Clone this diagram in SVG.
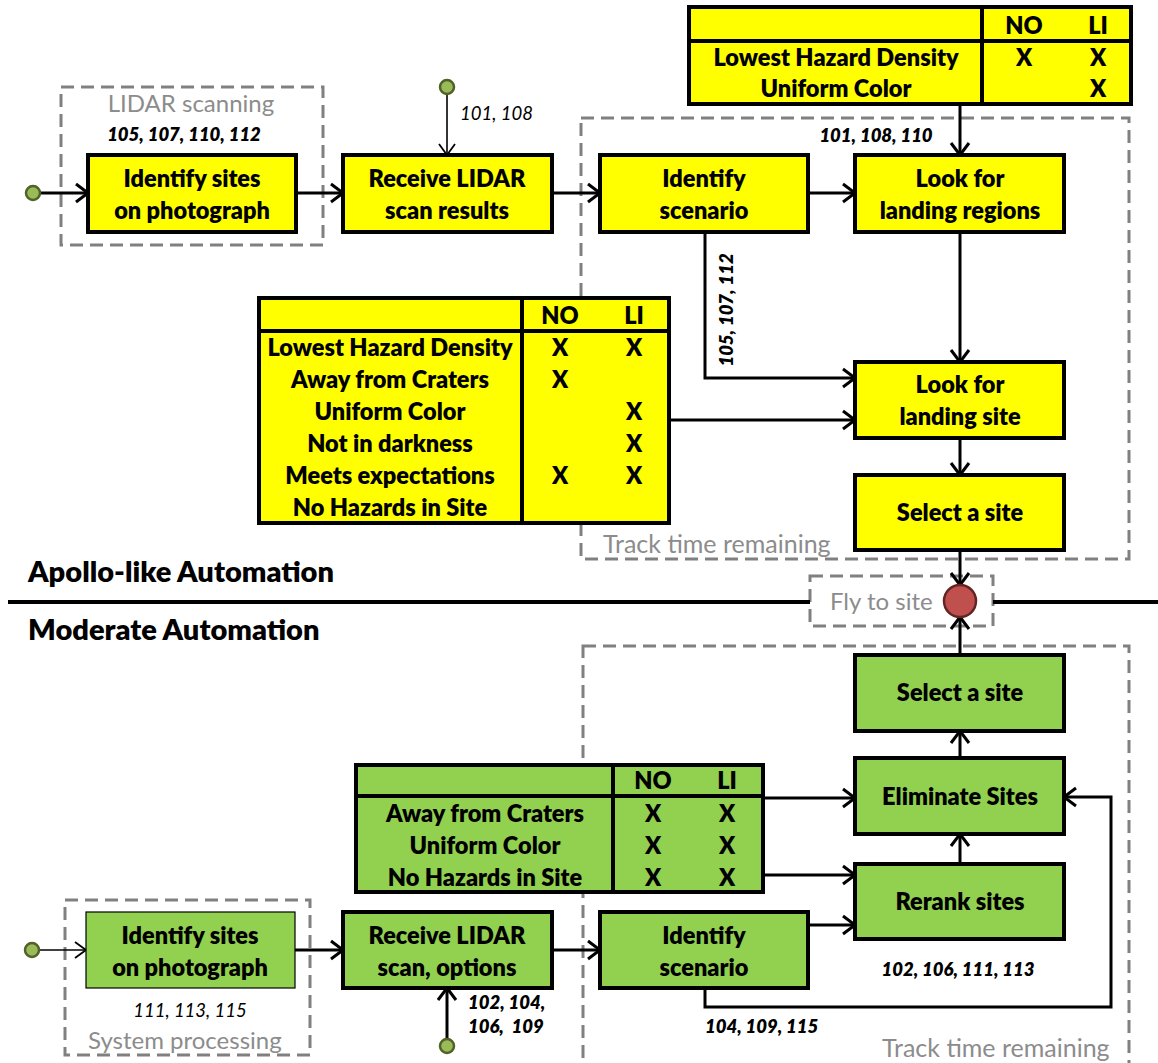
<svg xmlns="http://www.w3.org/2000/svg" width="1158" height="1063" viewBox="0 0 1158 1063">
<defs>
<style>
.box{stroke:#000;stroke-width:4}
.y{fill:#FFFF00}
.g{fill:#92D050}
.t{font-family:Lato,"Liberation Sans",sans-serif;font-weight:800;font-size:23.5px;fill:#000;text-anchor:middle}
.tb{font-family:Lato,"Liberation Sans",sans-serif;font-weight:800;font-size:23.5px;fill:#000;text-anchor:middle}
.lbl{font-family:Lato,"Liberation Sans",sans-serif;font-weight:800;font-style:italic;font-size:18.5px;fill:#000}
.lbln{font-family:Lato,"Liberation Sans",sans-serif;font-style:italic;font-size:18.5px;fill:#000}
.gray{font-family:Lato,"Liberation Sans",sans-serif;font-size:24px;fill:#8C8C8C}
.gray2{font-family:Lato,"Liberation Sans",sans-serif;font-size:25px;fill:#8C8C8C}
.sec{font-family:Lato,"Liberation Sans",sans-serif;font-weight:800;font-size:29px;fill:#000}
.dash{fill:none;stroke:#808080;stroke-width:3;stroke-dasharray:13 7}
.c{fill:none;stroke:#000;stroke-width:3}
.ct{fill:none;stroke:#000;stroke-width:1.6}
.start{fill:#9BBB59;stroke:#4F6228;stroke-width:2.5}
</style>
<marker id="a" markerUnits="userSpaceOnUse" markerWidth="18" markerHeight="22" refX="15" refY="11" orient="auto" overflow="visible">
<path d="M3,2 L15,11 L3,20" fill="none" stroke="#000" stroke-width="3"/>
</marker>
<marker id="at" markerUnits="userSpaceOnUse" markerWidth="18" markerHeight="22" refX="15" refY="11" orient="auto" overflow="visible">
<path d="M4,3 L15,11 L4,19" fill="none" stroke="#000" stroke-width="1.8"/>
</marker>
</defs>
<rect width="1158" height="1063" fill="#fff"/>

<!-- dashed group boxes -->
<g id="groups">
<rect class="dash" x="61" y="87" width="262" height="158"/>
<text class="gray" x="191" y="112" text-anchor="middle">LIDAR scanning</text>
<rect class="dash" x="581" y="118" width="548" height="441"/>
<text class="gray2" x="603" y="553">Track time remaining</text>
<rect class="dash" x="810" y="576" width="183" height="50"/>
<text class="gray" x="830" y="610">Fly to site</text>
<rect class="dash" x="583" y="646" width="546" height="440"/>
<text class="gray2" x="882" y="1057">Track time remaining</text>
<rect class="dash" x="65" y="900" width="245" height="155"/>
<text class="gray" x="88" y="1049">System processing</text>
</g>

<!-- section titles -->
<g id="sections">
<text class="sec" x="28" y="582">Apollo-like Automation</text>
<line x1="8" y1="602" x2="810" y2="602" stroke="#000" stroke-width="4"/>
<line x1="993" y1="602" x2="1158" y2="602" stroke="#000" stroke-width="4"/>
<text class="sec" x="28" y="640">Moderate Automation</text>
</g>

<!-- connectors -->
<g id="connectors">
<path class="c" d="M40,193 H88" marker-end="url(#a)"/>
<path class="c" d="M296,193 H343" marker-end="url(#a)"/>
<path class="ct" d="M447,94 V155" marker-end="url(#at)"/>
<path class="c" d="M552,193 H600" marker-end="url(#a)"/>
<path class="c" d="M808,193 H855" marker-end="url(#a)"/>
<path class="c" d="M960,106 V155" marker-end="url(#a)"/>
<path class="c" d="M705,232 V378 H855" marker-end="url(#a)"/>
<path class="c" d="M960,232 V362" marker-end="url(#a)"/>
<path class="c" d="M670,420 H855" marker-end="url(#a)"/>
<path class="c" d="M960,438 V475" marker-end="url(#a)"/>
<path class="c" d="M960,550 V585" marker-end="url(#a)"/>
<path class="c" d="M960,655 V617" marker-end="url(#a)"/>
<path class="c" d="M960,758 V731" marker-end="url(#a)"/>
<path class="c" d="M960,864 V834" marker-end="url(#a)"/>
<path class="c" d="M764,798 H855" marker-end="url(#a)"/>
<path class="c" d="M764,875 H855" marker-end="url(#a)"/>
<path class="c" d="M808,925 H855" marker-end="url(#a)"/>
<path class="c" d="M705,988 V1007 H1111 V797 H1064" marker-end="url(#a)"/>
<path class="ct" d="M39,950 H86" marker-end="url(#at)"/>
<path class="c" d="M295,950 H343" marker-end="url(#a)"/>
<path class="c" d="M447,1039 V988" marker-end="url(#a)"/>
<path class="c" d="M552,950 H600" marker-end="url(#a)"/>
<text class="lbl" x="184" y="141" text-anchor="middle">105, 107, 110, 112</text>
<text class="lbln" x="460" y="120">101, 108</text>
<text class="lbl" x="876" y="142" text-anchor="middle">101, 108, 110</text>
<text class="lbl" transform="translate(733,310) rotate(-90)" text-anchor="middle">105, 107, 112</text>
<text class="lbln" x="190" y="1017" text-anchor="middle">111, 113, 115</text>
<text class="lbl" x="468" y="1009">102, 104,</text>
<text class="lbl" x="468" y="1033" xml:space="preserve">106,  109</text>
<text class="lbl" x="958" y="976" text-anchor="middle">102, 106, 111, 113</text>
<text class="lbl" x="705" y="1033">104, 109, 115</text>
</g>

<!-- start / end points -->
<g id="start-top"><circle class="start" cx="33" cy="193" r="7"/></g>
<g id="input-top"><circle class="start" cx="447" cy="87" r="7"/></g>
<g id="start-bottom"><circle class="start" cx="32" cy="950" r="7"/></g>
<g id="input-bottom"><circle class="start" cx="447" cy="1046" r="7"/></g>
<g id="fly-to-site"><circle cx="960" cy="601" r="16" fill="#C0504D" stroke="#632523" stroke-width="2.5"/></g>

<!-- Apollo-like nodes -->
<g id="a-identify-sites">
<rect class="box y" x="88" y="155" width="208" height="77"/>
<text class="t" x="192" y="187">Identify sites</text>
<text class="t" x="192" y="219">on photograph</text>
</g>
<g id="a-receive-lidar">
<rect class="box y" x="343" y="155" width="209" height="77"/>
<text class="t" x="447" y="187">Receive LIDAR</text>
<text class="t" x="447" y="219">scan results</text>
</g>
<g id="a-identify-scenario">
<rect class="box y" x="600" y="155" width="208" height="77"/>
<text class="t" x="704" y="187">Identify</text>
<text class="t" x="704" y="219">scenario</text>
</g>
<g id="a-look-regions">
<rect class="box y" x="855" y="155" width="209" height="77"/>
<text class="t" x="960" y="187">Look for</text>
<text class="t" x="960" y="219">landing regions</text>
</g>
<g id="a-look-site">
<rect class="box y" x="855" y="362" width="209" height="76"/>
<text class="t" x="960" y="393">Look for</text>
<text class="t" x="960" y="425">landing site</text>
</g>
<g id="a-select-site">
<rect class="box y" x="855" y="475" width="209" height="75"/>
<text class="t" x="960" y="521">Select a site</text>
</g>

<!-- top-right table -->
<g id="table-regions">
<rect class="box y" x="689" y="7" width="442" height="97"/>
<line x1="689" y1="41" x2="1131" y2="41" stroke="#000" stroke-width="4"/>
<line x1="982" y1="7" x2="982" y2="104" stroke="#000" stroke-width="4"/>
<text class="tb" x="1024" y="34">NO</text>
<text class="tb" x="1098" y="34">LI</text>
<text class="tb" x="836" y="66">Lowest Hazard Density</text>
<text class="tb" x="1024" y="66">X</text>
<text class="tb" x="1098" y="66">X</text>
<text class="tb" x="836" y="97">Uniform Color</text>
<text class="tb" x="1098" y="97">X</text>
</g>

<!-- middle yellow table -->
<g id="table-site">
<rect class="box y" x="259" y="298" width="410" height="225"/>
<line x1="259" y1="331" x2="669" y2="331" stroke="#000" stroke-width="4"/>
<line x1="522" y1="298" x2="522" y2="523" stroke="#000" stroke-width="4"/>
<text class="tb" x="560" y="324">NO</text>
<text class="tb" x="634" y="324">LI</text>
<text class="tb" x="390" y="356">Lowest Hazard Density</text>
<text class="tb" x="560" y="356">X</text>
<text class="tb" x="634" y="356">X</text>
<text class="tb" x="390" y="388">Away from Craters</text>
<text class="tb" x="560" y="388">X</text>
<text class="tb" x="390" y="420">Uniform Color</text>
<text class="tb" x="634" y="420">X</text>
<text class="tb" x="390" y="452">Not in darkness</text>
<text class="tb" x="634" y="452">X</text>
<text class="tb" x="390" y="484">Meets expectations</text>
<text class="tb" x="560" y="484">X</text>
<text class="tb" x="634" y="484">X</text>
<text class="tb" x="390" y="516">No Hazards in Site</text>
</g>

<!-- Moderate nodes -->
<g id="m-select-site">
<rect class="box g" x="855" y="655" width="209" height="76"/>
<text class="t" x="960" y="701">Select a site</text>
</g>
<g id="m-eliminate">
<rect class="box g" x="855" y="758" width="209" height="76"/>
<text class="t" x="960" y="805">Eliminate Sites</text>
</g>
<g id="m-rerank">
<rect class="box g" x="855" y="864" width="209" height="75"/>
<text class="t" x="960" y="910">Rerank sites</text>
</g>
<g id="m-identify-scenario">
<rect class="box g" x="600" y="912" width="208" height="76"/>
<text class="t" x="704" y="944">Identify</text>
<text class="t" x="704" y="976">scenario</text>
</g>
<g id="m-receive-lidar">
<rect class="box g" x="343" y="912" width="209" height="76"/>
<text class="t" x="447" y="944">Receive LIDAR</text>
<text class="t" x="447" y="976">scan, options</text>
</g>
<g id="m-identify-sites">
<rect class="g" x="86" y="912" width="209" height="76" stroke="#000" stroke-width="1.2"/>
<text class="t" x="190" y="944">Identify sites</text>
<text class="t" x="190" y="976">on photograph</text>
</g>

<!-- green table -->
<g id="table-green">
<rect class="box g" x="356" y="765" width="407" height="127"/>
<line x1="356" y1="796" x2="763" y2="796" stroke="#000" stroke-width="4"/>
<line x1="613" y1="765" x2="613" y2="892" stroke="#000" stroke-width="4"/>
<text class="tb" x="653" y="789">NO</text>
<text class="tb" x="727" y="789">LI</text>
<text class="tb" x="485" y="822">Away from Craters</text>
<text class="tb" x="653" y="822">X</text>
<text class="tb" x="727" y="822">X</text>
<text class="tb" x="485" y="854">Uniform Color</text>
<text class="tb" x="653" y="854">X</text>
<text class="tb" x="727" y="854">X</text>
<text class="tb" x="485" y="886">No Hazards in Site</text>
<text class="tb" x="653" y="886">X</text>
<text class="tb" x="727" y="886">X</text>
</g>
</svg>
